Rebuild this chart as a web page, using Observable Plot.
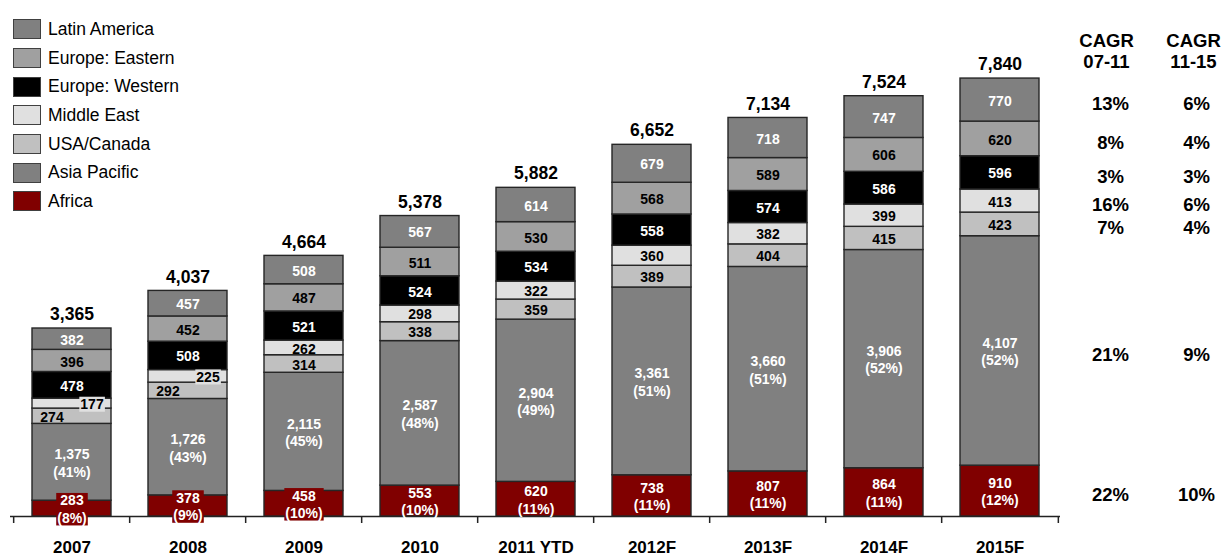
<!DOCTYPE html>
<html>
<head>
<meta charset="utf-8">
<script src="https://cdn.jsdelivr.net/npm/d3@7"></script>
<script src="https://cdn.jsdelivr.net/npm/@observablehq/plot@0.6"></script>
<style>
  body { margin: 0; background: #fff; font-family: "Liberation Sans", Arial, sans-serif; }
  #wrap { position: relative; width: 1228px; height: 558px; overflow: hidden; background: #fff; }
  #legend { position: absolute; left: 13px; top: 15px; }
  #legend .row { display: flex; align-items: center; height: 28.7px; }
  #legend .sw { width: 26px; height: 18px; border: 1px solid #404040; margin-right: 7px; }
  #legend .lab { font-size: 17.5px; color: #000; white-space: nowrap; }
  #chart { position: absolute; left: 0; top: 0; }
</style>
</head>
<body>
<div id="wrap">
  <div id="chart"></div>
  <div id="legend"></div>
</div>
<script>
// ---------- data ----------
const years = ["2007", "2008", "2009", "2010", "2011 YTD", "2012F", "2013F", "2014F", "2015F"];
// stacking order, bottom to top
const regions = ["Africa", "Asia Pacific", "USA/Canada", "Middle East", "Europe: Western", "Europe: Eastern", "Latin America"];
const legendOrder = ["Latin America", "Europe: Eastern", "Europe: Western", "Middle East", "USA/Canada", "Asia Pacific", "Africa"];

const africa        = [283, 378, 458, 553, 620, 738, 807, 864, 910];
const africaPct     = [8, 9, 10, 10, 11, 11, 11, 11, 12];
const asiaPacific   = [1375, 1726, 2115, 2587, 2904, 3361, 3660, 3906, 4107];
const asiaPct       = [41, 43, 45, 48, 49, 51, 51, 52, 52];
const usaCanada     = [274, 292, 314, 338, 359, 389, 404, 415, 423];
const middleEast    = [177, 225, 262, 298, 322, 360, 382, 399, 413];
const europeWestern = [478, 508, 521, 524, 534, 558, 574, 586, 596];
const europeEastern = [396, 452, 487, 511, 530, 568, 589, 606, 620];
const latinAmerica  = [382, 457, 508, 567, 614, 679, 718, 747, 770];
const totals        = [3365, 4037, 4664, 5378, 5882, 6652, 7134, 7524, 7840];

// CAGR by region, bottom to top (same order as regions)
const cagr0711 = ["22%", "21%", "7%", "16%", "3%", "8%", "13%"];
const cagr1115 = ["10%", "9%", "4%", "6%", "3%", "4%", "6%"];
const cagrHeaders = ["CAGR\n07-11", "CAGR\n11-15"];

// ---------- styles ----------
const fills = {
  "Africa": "#800000",
  "Asia Pacific": "#808080",
  "USA/Canada": "#c0c0c0",
  "Middle East": "#e0e0e0",
  "Europe: Western": "#000000",
  "Europe: Eastern": "#a0a0a0",
  "Latin America": "#808080"
};
const textColors = {
  "Africa": "white",
  "Asia Pacific": "white",
  "USA/Canada": "black",
  "Middle East": "black",
  "Europe: Western": "white",
  "Europe: Eastern": "black",
  "Latin America": "white"
};

// ---------- table ----------
const series = {
  "Africa": africa,
  "Asia Pacific": asiaPacific,
  "USA/Canada": usaCanada,
  "Middle East": middleEast,
  "Europe: Western": europeWestern,
  "Europe: Eastern": europeEastern,
  "Latin America": latinAmerica
};
const fmt = d3.format(",");
const rows = [];
years.forEach((year, i) => {
  let cum = 0;
  regions.forEach(region => {
    const v = series[region][i];
    let label = fmt(v);
    if (region === "Africa") label += `\n(${africaPct[i]}%)`;
    if (region === "Asia Pacific") label += `\n(${asiaPct[i]}%)`;
    const crowded = middleEast[i] < 250;
    let shift = 0;
    if (crowded && region === "Middle East") shift = 1;
    if (crowded && region === "USA/Canada") shift = -1;
    const boxed = (region === "Africa" && v < 500) || shift === 1;
    rows.push({year, i, region, value: v, y1: cum, y2: cum + v, mid: cum + v / 2, label, shift, boxed});
    cum += v;
  });
});
const last = rows.filter(d => d.i === years.length - 1);
const cagrRows = regions.map((r, k) => ({region: r, mid: last[k].mid, a: cagr0711[k], b: cagr1115[k]}));

// ---------- layout ----------
const W = 1228, H = 558, mL = 10, mR = 168, mT = 78, mB = 42;
const step = (W - mL - mR) / years.length;
const font = "'Liberation Sans', Arial, sans-serif";
const labelOpts = {fontSize: 14, fontWeight: "bold", lineHeight: 1.25};

function labelMarks(filterFn, dx, desc) {
  return ["white", "black"].map(c =>
    Plot.text(rows.filter(d => filterFn(d) && textColors[d.region] === c), {
      x: "year", y: "mid", text: "label", fill: c, dx,
      ...(desc ? {ariaDescription: desc} : {}), ...labelOpts
    })
  );
}

const chart = Plot.plot({
  width: W, height: H,
  marginLeft: mL, marginRight: mR, marginTop: mT, marginBottom: mB,
  style: {fontFamily: font, background: "transparent", color: "black", overflow: "visible"},
  x: {domain: years, paddingInner: 0.32, paddingOuter: 0.16, label: null},
  y: {domain: [0, 7840], axis: null},
  color: {domain: regions, range: regions.map(r => fills[r])},
  marks: [
    Plot.ruleY([0], {stroke: "#222", strokeWidth: 1.5}),
    Plot.ruleX(years, {x: d => d, dx: -step / 2, y1: 0, y2: 0, insetBottom: -7, stroke: "#222", strokeWidth: 1.5}),
    Plot.ruleX(years.slice(-1), {x: d => d, dx: step / 2, y1: 0, y2: 0, insetBottom: -7, stroke: "#222", strokeWidth: 1.5}),
    Plot.barY(rows, {x: "year", y1: "y1", y2: "y2", fill: "region", stroke: "#262626", strokeWidth: 1.4}),
    // normal labels
    ...labelMarks(d => !d.boxed && d.shift === 0, 0),
    ...labelMarks(d => !d.boxed && d.shift === -1, -20),
    // boxed labels
    ...labelMarks(d => d.boxed && d.region === "Africa", 0, "box-africa"),
    ...labelMarks(d => d.boxed && d.region === "Middle East", 20, "box-me"),
    // totals
    Plot.text(years, {x: d => d, y: (d, i) => totals[i], text: (d, i) => fmt(totals[i]), dy: -14,
      fontSize: 17.5, fontWeight: "bold", fill: "black"}),
    // CAGR columns
    Plot.text(cagrRows, {y: "mid", text: "a", frameAnchor: "right", textAnchor: "middle", dx: 50, dy: 4, fontSize: 18.5, fontWeight: "bold", fill: "black"}),
    Plot.text(cagrRows, {y: "mid", text: "b", frameAnchor: "right", textAnchor: "middle", dx: 136, dy: 4, fontSize: 18.5, fontWeight: "bold", fill: "black"}),
    Plot.text([cagrHeaders[0]], {text: d => d, frameAnchor: "top-right", textAnchor: "middle", dx: 46, dy: -46.5, fontSize: 18.5, fontWeight: "bold", lineHeight: 1.15, fill: "black"}),
    Plot.text([cagrHeaders[1]], {text: d => d, frameAnchor: "top-right", textAnchor: "middle", dx: 133, dy: -46.5, fontSize: 18.5, fontWeight: "bold", lineHeight: 1.15, fill: "black"}),
    Plot.axisX({tickSize: 0, tickPadding: 24.5, fontSize: 17, fontWeight: "bold", fill: "black", label: null})
  ]
});
document.getElementById("chart").appendChild(chart);

// background boxes behind labels that overflow their segment
function addBoxes(desc, fill) {
  chart.querySelectorAll(`g[aria-description="${desc}"] text`).forEach(t => {
    const b = t.getBBox();
    const r = document.createElementNS("http://www.w3.org/2000/svg", "rect");
    r.setAttribute("x", b.x - 1);
    r.setAttribute("y", b.y + 0.5);
    r.setAttribute("width", b.width + 2);
    r.setAttribute("height", b.height - 1);
    r.setAttribute("fill", fill);
    const tr = t.getAttribute("transform");
    if (tr) r.setAttribute("transform", tr);
    t.parentNode.insertBefore(r, t);
  });
}
addBoxes("box-africa", fills["Africa"]);
addBoxes("box-me", fills["Middle East"]);

// legend
const legend = document.getElementById("legend");
legendOrder.forEach(r => {
  const row = document.createElement("div");
  row.className = "row";
  const sw = document.createElement("div");
  sw.className = "sw";
  sw.style.background = fills[r];
  const lab = document.createElement("div");
  lab.className = "lab";
  lab.textContent = r;
  row.appendChild(sw);
  row.appendChild(lab);
  legend.appendChild(row);
});
</script>
</body>
</html>
